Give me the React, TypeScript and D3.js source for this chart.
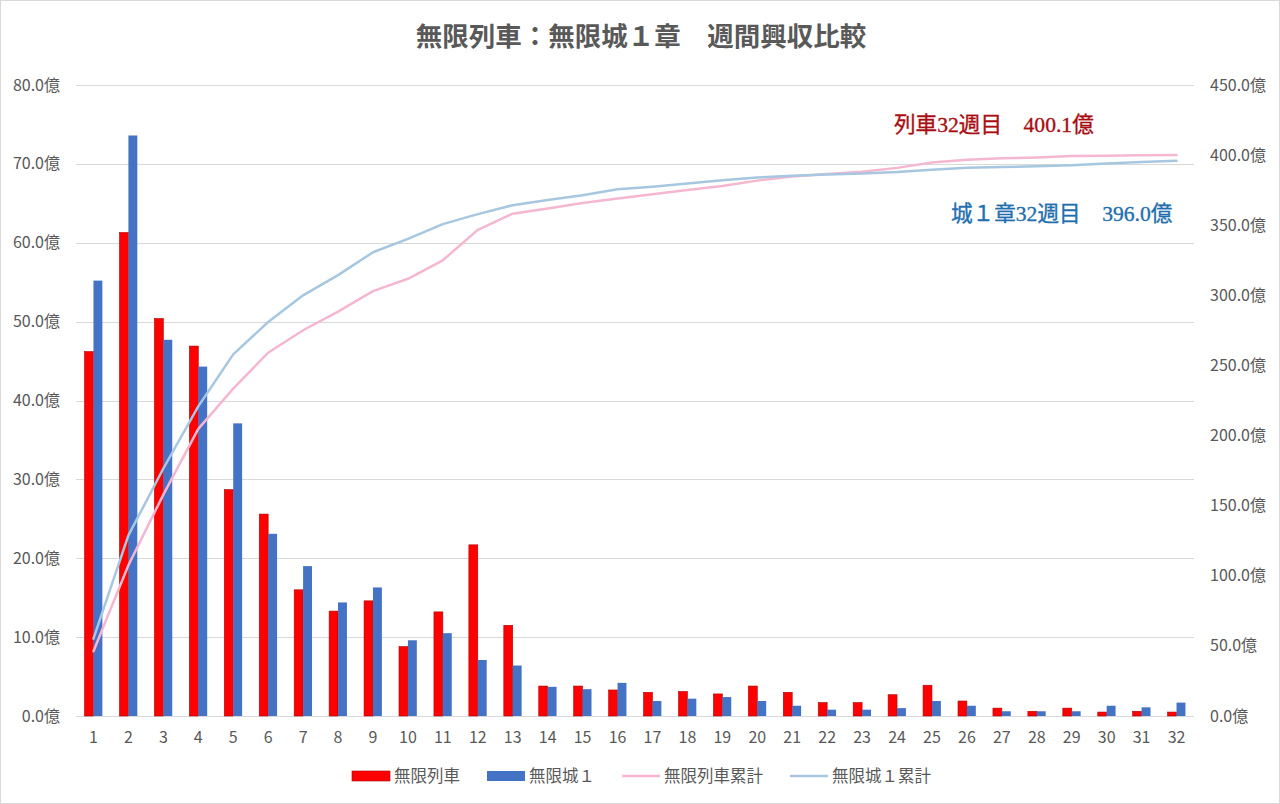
import * as d3 from 'd3';
import React, { useEffect, useRef } from 'react';

// 週 (x categories)
const weeks = [
  '1', '2', '3', '4', '5', '6', '7', '8', '9', '10', '11', '12', '13', '14', '15', '16',
  '17', '18', '19', '20', '21', '22', '23', '24', '25', '26', '27', '28', '29', '30', '31', '32',
];

// 週間興収 (億)
const resshaWeekly = [
  46.2, 61.3, 50.4, 46.9, 28.7, 25.6, 16.0, 13.3, 14.6, 8.8, 13.2, 21.7, 11.5, 3.8, 3.8, 3.3,
  3.0, 3.1, 2.8, 3.8, 3.0, 1.7, 1.7, 2.7, 3.9, 1.9, 1.0, 0.6, 1.0, 0.5, 0.6, 0.5,
];
const mugenjoWeekly = [
  55.2, 73.6, 47.7, 44.3, 37.1, 23.1, 19.0, 14.4, 16.3, 9.6, 10.5, 7.1, 6.4, 3.7, 3.4, 4.2,
  1.9, 2.2, 2.4, 1.9, 1.3, 0.8, 0.8, 1.0, 1.9, 1.3, 0.6, 0.6, 0.6, 1.3, 1.1, 1.7,
];

// 累計 (億)
const resshaTotal = [
  46.2, 107.5, 157.9, 204.8, 233.5, 259.1, 275.1, 288.4, 303.0, 311.8, 325.0, 346.7, 358.2, 362.0, 365.8, 369.1,
  372.1, 375.2, 378.0, 381.8, 384.8, 386.5, 388.2, 390.9, 394.8, 396.7, 397.7, 398.3, 399.3, 399.6, 399.9, 400.1,
];
const mugenjoTotal = [
  55.2, 128.8, 176.5, 220.8, 257.9, 281.0, 300.0, 314.4, 330.7, 340.3, 350.8, 357.9, 364.3, 368.0, 371.4, 375.6,
  377.5, 379.7, 382.1, 384.0, 385.3, 386.1, 386.9, 387.9, 389.6, 390.9, 391.5, 392.1, 392.7, 394.0, 395.0, 396.0,
];

const leftTicks = [0, 10, 20, 30, 40, 50, 60, 70, 80];
const rightTicks = [0, 50, 100, 150, 200, 250, 300, 350, 400, 450];

const seriesNames = ['無限列車', '無限城１', '無限列車累計', '無限城１累計'];
const titleText = '無限列車：無限城１章　週間興収比較';
const noteRessha = '列車32週目　400.1億';
const noteMugenjo = '城１章32週目　396.0億';

const W = 1280;
const H = 804;
const FONT = "'Noto Sans CJK JP', 'Noto Sans', sans-serif";
const SERIF = "'Liberation Serif', 'DejaVu Serif', 'Noto Sans CJK JP', serif";

const App: React.FC = () => {
  const ref = useRef<SVGSVGElement | null>(null);

  useEffect(() => {
    if (!ref.current) return;
    const svg = d3.select(ref.current);
    svg.selectAll('*').remove();

    const margin = { top: 85, right: 86, bottom: 88, left: 76 };
    const innerW = W - margin.left - margin.right;
    const innerH = H - margin.top - margin.bottom;

    svg.append('rect')
      .attr('x', 0.5).attr('y', 0.5)
      .attr('width', W - 1).attr('height', H - 1)
      .attr('fill', '#fff').attr('stroke', '#d9d9d9');

    const x = d3.scaleBand().domain(weeks).range([0, innerW]).paddingInner(0.49).paddingOuter(0.245);
    const xSub = d3.scaleBand().domain(['a', 'b']).range([0, x.bandwidth()]);
    const yL = d3.scaleLinear().domain([0, 80]).range([innerH, 0]);
    const yR = d3.scaleLinear().domain([0, 450]).range([innerH, 0]);
    const center = (w: string) => (x(w) ?? 0) + x.bandwidth() / 2;

    const g = svg.append('g').attr('transform', `translate(${margin.left},${margin.top})`);

    // Gridlines
    g.append('g')
      .selectAll('line')
      .data(leftTicks)
      .enter()
      .append('line')
      .attr('x1', 0).attr('x2', innerW)
      .attr('y1', (d) => Math.round(yL(d)) + 0.5)
      .attr('y2', (d) => Math.round(yL(d)) + 0.5)
      .attr('stroke', '#d9d9d9').attr('stroke-width', 1);

    // Left axis labels
    g.append('g')
      .selectAll('text')
      .data(leftTicks)
      .enter()
      .append('text')
      .attr('x', -16)
      .attr('y', (d) => yL(d))
      .attr('dy', '0.35em')
      .attr('text-anchor', 'end')
      .style('font-family', FONT).style('font-size', '16px').style('fill', '#595959')
      .text((d) => `${d.toFixed(1)}億`);

    // Right axis labels
    g.append('g')
      .selectAll('text')
      .data(rightTicks)
      .enter()
      .append('text')
      .attr('x', innerW + 16)
      .attr('y', (d) => yR(d))
      .attr('dy', '0.35em')
      .attr('text-anchor', 'start')
      .style('font-family', FONT).style('font-size', '16px').style('fill', '#595959')
      .text((d) => `${d.toFixed(1)}億`);

    // X labels
    g.append('g')
      .selectAll('text')
      .data(weeks)
      .enter()
      .append('text')
      .attr('x', (d) => center(d))
      .attr('y', innerH + 21)
      .attr('dy', '0.35em')
      .attr('text-anchor', 'middle')
      .style('font-family', FONT).style('font-size', '16px').style('fill', '#595959')
      .text((d) => d);

    // Bars
    g.append('g')
      .selectAll('rect')
      .data(weeks)
      .enter()
      .append('rect')
      .attr('x', (d) => (x(d) ?? 0) + (xSub('a') ?? 0))
      .attr('y', (d, i) => yL(resshaWeekly[i]))
      .attr('width', xSub.bandwidth())
      .attr('height', (d, i) => innerH - yL(resshaWeekly[i]))
      .attr('fill', '#ff0000')
      .attr('stroke', '#b00000').attr('stroke-width', 0.6);

    g.append('g')
      .selectAll('rect')
      .data(weeks)
      .enter()
      .append('rect')
      .attr('x', (d) => (x(d) ?? 0) + (xSub('b') ?? 0))
      .attr('y', (d, i) => yL(mugenjoWeekly[i]))
      .attr('width', xSub.bandwidth())
      .attr('height', (d, i) => innerH - yL(mugenjoWeekly[i]))
      .attr('fill', '#4472c4');

    // Cumulative lines
    const line = d3.line<number>()
      .x((d, i) => center(weeks[i]))
      .y((d) => yR(d));

    g.append('path')
      .datum(resshaTotal)
      .attr('d', line)
      .attr('fill', 'none').attr('stroke', '#f5b7d0').attr('stroke-width', 2.5)
      .attr('stroke-linejoin', 'round').attr('stroke-linecap', 'round');

    g.append('path')
      .datum(mugenjoTotal)
      .attr('d', line)
      .attr('fill', 'none').attr('stroke', '#a7c7e1').attr('stroke-width', 2.5)
      .attr('stroke-linejoin', 'round').attr('stroke-linecap', 'round');

    // Title
    svg.append('text')
      .attr('x', W / 2 + 1).attr('y', 37)
      .attr('dy', '0.35em')
      .attr('text-anchor', 'middle')
      .style('font-family', FONT).style('font-size', '26.5px').style('font-weight', 'bold').style('fill', '#595959')
      .text(titleText);

    // Notes
    svg.append('text')
      .attr('x', 894).attr('y', 124)
      .attr('dy', '0.35em')
      .style('font-family', SERIF).style('font-size', '21.6px').style('fill', '#a80d12')
      .style('stroke', '#a80d12').style('stroke-width', '0.35px')
      .text(noteRessha);

    svg.append('text')
      .attr('x', 951).attr('y', 213)
      .attr('dy', '0.35em')
      .style('font-family', SERIF).style('font-size', '21.6px').style('fill', '#1f6fae')
      .style('stroke', '#1f6fae').style('stroke-width', '0.35px')
      .text(noteMugenjo);

    // Legend
    const legendX = [352, 487, 622, 790];
    const legend = svg.append('g').attr('transform', 'translate(0, 776)');
    seriesNames.forEach((name, i) => {
      const row = legend.append('g').attr('transform', `translate(${legendX[i]},0)`);
      if (i < 2) {
        row.append('rect')
          .attr('x', 0).attr('y', -5).attr('width', 38).attr('height', 10)
          .attr('fill', i === 0 ? '#ff0000' : '#4472c4')
          .attr('stroke', i === 0 ? '#b00000' : 'none').attr('stroke-width', 0.6);
      } else {
        row.append('line')
          .attr('x1', 0).attr('x2', 38).attr('y1', 0).attr('y2', 0)
          .attr('stroke', i === 2 ? '#f5b7d0' : '#a7c7e1').attr('stroke-width', 2.5);
      }
      row.append('text')
        .attr('x', 42).attr('y', 0).attr('dy', '0.35em')
        .style('font-family', FONT).style('font-size', '16.5px').style('fill', '#595959')
        .text(name);
    });
  }, []);

  return (
    <svg
      ref={ref}
      width={W}
      height={H}
      style={{ position: 'absolute', left: 0, top: 0 }}
    ></svg>
  );
};

export default App;
